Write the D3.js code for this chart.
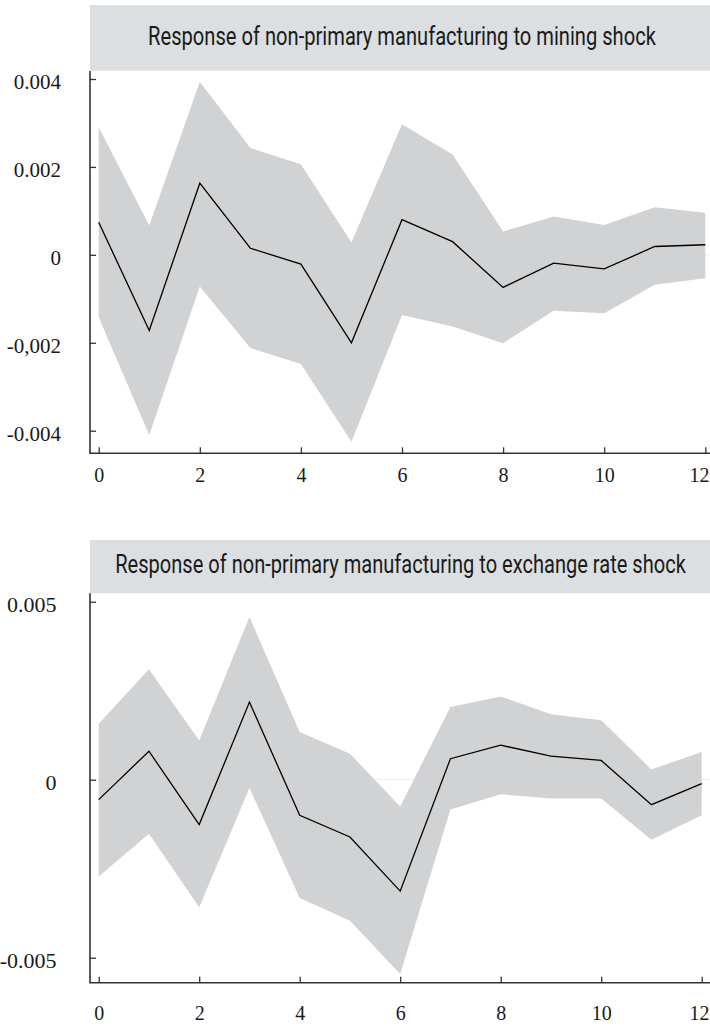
<!DOCTYPE html>
<html>
<head>
<meta charset="utf-8">
<script src="https://cdn.jsdelivr.net/npm/d3@7"></script>
<style>
  html, body { margin: 0; padding: 0; background: #ffffff; }
  svg { display: block; }
</style>
</head>
<body>
<svg id="chart" width="710" height="1026"></svg>
<script>
// Forecast horizons (periods after the shock)
const horizons = [0, 1, 2, 3, 4, 5, 6, 7, 8, 9, 10, 11, 12];
const xTicks = [0, 2, 4, 6, 8, 10, 12];

// Response of non-primary manufacturing to a mining shock
const miningResponse = [0.00074, -0.00172, 0.00163, 0.00015, -0.00021, -0.00200, 0.00080, 0.00030, -0.00074, -0.00019, -0.00032, 0.00019, 0.00023];
const miningUpper    = [0.00290, 0.00067, 0.00394, 0.00243, 0.00206, 0.00028, 0.00297, 0.00228, 0.00053, 0.00087, 0.00068, 0.00108, 0.00096];
const miningLower    = [-0.00142, -0.00410, -0.00072, -0.00212, -0.00248, -0.00425, -0.00137, -0.00163, -0.00201, -0.00127, -0.00133, -0.00068, -0.00053];
const miningYTicks = [0.004, 0.002, 0, -0.002, -0.004];
const miningYLabels = ["0.004", "0.002", "0", "-0,002", "-0.004"];

// Response of non-primary manufacturing to an exchange rate shock
const exchangeResponse = [-0.00056, 0.00080, -0.00126, 0.00218, -0.00100, -0.00161, -0.00313, 0.00059, 0.00097, 0.00066, 0.00054, -0.00070, -0.00011];
const exchangeUpper    = [0.00157, 0.00310, 0.00110, 0.00457, 0.00134, 0.00073, -0.00075, 0.00204, 0.00234, 0.00184, 0.00167, 0.00029, 0.00078];
const exchangeLower    = [-0.00272, -0.00152, -0.00358, -0.00023, -0.00332, -0.00396, -0.00546, -0.00084, -0.00041, -0.00053, -0.00053, -0.00169, -0.00100];
const exchangeYTicks = [0.005, 0, -0.005];
const exchangeYLabels = ["0.005", "0", "-0.005"];

const titles = [
  "Response of non-primary manufacturing to mining shock",
  "Response of non-primary manufacturing to exchange rate shock"
];

const svg = d3.select("#chart");
const axisColor = "#333333";
const bandColor = "#d1d2d4";
const headerColor = "#dcdfe1";

const panels = [
  {
    title: titles[0], response: miningResponse, upper: miningUpper, lower: miningLower,
    yTicks: miningYTicks, yLabels: miningYLabels,
    yDomain: [-0.004, 0.004], yRange: [430.7, 79],
    xRange: [98.7, 705.3],
    header: { y: 5, h: 65.7, cx: 402, baseline: 45, width: 508 },
    axisTop: 71, axisY: 453.3, xPad: 14.2, yPad: 29, yFont: 21
  },
  {
    title: titles[1], response: exchangeResponse, upper: exchangeUpper, lower: exchangeLower,
    yTicks: exchangeYTicks, yLabels: exchangeYLabels,
    yDomain: [-0.005, 0.005], yRange: [957.7, 601.7],
    xRange: [98.7, 701.7],
    header: { y: 540, h: 53.3, cx: 400.5, baseline: 573.3, width: 571 },
    axisTop: 593.3, axisY: 982.7, xPad: 23, yPad: 33.5, yFont: 22
  }
];

panels.forEach(p => {
  const g = svg.append("g");
  const x = d3.scaleLinear().domain([0, 12]).range(p.xRange);
  const y = d3.scaleLinear().domain(p.yDomain).range(p.yRange);

  // Header strip with the panel title, narrowed horizontally to a condensed look
  g.append("rect")
    .attr("x", 90).attr("y", p.header.y)
    .attr("width", 620).attr("height", p.header.h)
    .attr("fill", headerColor);
  const titleText = g.append("text")
    .attr("x", 0).attr("y", 0)
    .attr("text-anchor", "middle")
    .attr("font-family", "Roboto, 'Noto Sans', sans-serif")
    .attr("font-size", 25)
    .attr("fill", "#1a1a1a")
    .text(p.title);
  const natural = titleText.node().getComputedTextLength();
  const sx = p.header.width / natural;
  titleText.attr("transform", `translate(${p.header.cx},${p.header.baseline}) scale(${sx},1)`);

  // Faint zero reference line
  g.append("line")
    .attr("x1", 90).attr("x2", 710)
    .attr("y1", y(0)).attr("y2", y(0))
    .attr("stroke", "#eeeeee").attr("stroke-width", 1);

  // Confidence band
  const area = d3.area()
    .x((d, i) => x(horizons[i]))
    .y0((d, i) => y(p.lower[i]))
    .y1((d, i) => y(p.upper[i]));
  g.append("path")
    .datum(horizons)
    .attr("d", area)
    .attr("fill", bandColor);

  // Impulse response line
  const line = d3.line()
    .x((d, i) => x(horizons[i]))
    .y(d => y(d));
  g.append("path")
    .datum(p.response)
    .attr("d", line)
    .attr("fill", "none")
    .attr("stroke", "#000000")
    .attr("stroke-width", 1.3)
    .attr("stroke-linejoin", "miter");

  // Y axis (ticks point inward)
  const yAxis = d3.axisLeft(y)
    .tickValues(p.yTicks)
    .tickFormat((d, i) => p.yLabels[i])
    .tickSizeInner(-6)
    .tickSizeOuter(0)
    .tickPadding(p.yPad);
  const ya = g.append("g").attr("transform", "translate(90,0)").call(yAxis);
  ya.select(".domain").remove();
  ya.selectAll(".tick line").attr("stroke", axisColor).attr("stroke-width", 1.3);
  ya.selectAll(".tick text")
    .attr("dy", "0.45em")
    .attr("fill", "#1a1a1a")
    .attr("font-family", "'Liberation Serif', 'Times New Roman', serif")
    .attr("font-size", p.yFont);

  // X axis (ticks point inward)
  const xAxis = d3.axisBottom(x)
    .tickValues(xTicks)
    .tickFormat(d3.format("d"))
    .tickSizeInner(-6)
    .tickSizeOuter(0)
    .tickPadding(p.xPad);
  const xa = g.append("g").attr("transform", `translate(0,${p.axisY})`).call(xAxis);
  xa.select(".domain").remove();
  xa.selectAll(".tick line").attr("stroke", axisColor).attr("stroke-width", 1.3);
  xa.selectAll(".tick text")
    .attr("fill", "#1a1a1a")
    .attr("font-family", "'Liberation Serif', 'Times New Roman', serif")
    .attr("font-size", 20);
  // Keep the last label inside the drawing area
  xa.selectAll(".tick text")
    .filter(d => d === 12)
    .attr("text-anchor", "end")
    .attr("x", 710 - x(12) - 1);

  // Axis lines
  g.append("line")
    .attr("x1", 90).attr("x2", 90)
    .attr("y1", p.axisTop).attr("y2", p.axisY)
    .attr("stroke", axisColor).attr("stroke-width", 1.6);
  g.append("line")
    .attr("x1", 89.2).attr("x2", 710)
    .attr("y1", p.axisY).attr("y2", p.axisY)
    .attr("stroke", axisColor).attr("stroke-width", 1.6);
});
</script>
</body>
</html>
